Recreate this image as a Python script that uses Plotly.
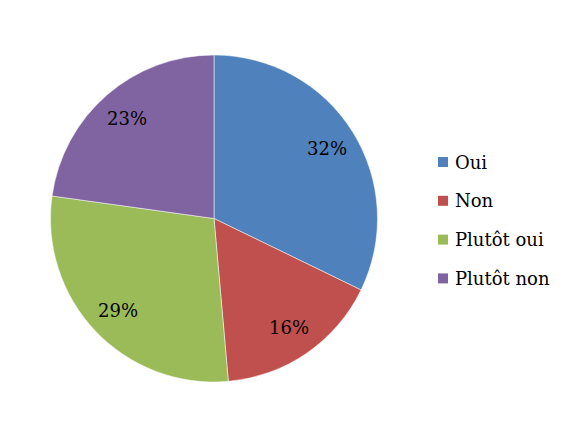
import math
import plotly.graph_objects as go

labels = ["Oui", "Non", "Plutôt oui", "Plutôt non"]
values = [32.2, 16.4, 28.6, 22.8]
colors = ["#4F81BD", "#C0504D", "#9BBB59", "#8064A2"]

FONT = "DejaVu Serif"
W, H = 565, 429   # page body adds an 8px margin

fig = go.Figure()
fig.add_trace(go.Pie(
    labels=labels, values=values, sort=False, direction="clockwise",
    rotation=0, marker=dict(colors=colors, line=dict(color="white", width=0.5)),
    textinfo="none", hoverinfo="label+percent", showlegend=False,
    domain=dict(x=[42 / W, 370 / W], y=[1 - 374 / H, 1 - 47 / H]),
))

# percentage labels at ~0.8 radius on each slice's mid-angle
cx, cy = 206 / W, 1 - 210.5 / H
r = 164 * 0.81
total = sum(values)
cum = 0
for v in values:
    mid = (cum + v / 2) / total * 2 * math.pi
    cum += v
    fig.add_annotation(
        x=cx + r * math.sin(mid) / W, y=cy + r * math.cos(mid) / H,
        xref="paper", yref="paper", xanchor="center", yanchor="middle",
        showarrow=False,
        text=f"{v / total * 100:.0f}%", font=dict(family=FONT, size=18, color="black"),
    )

# legend: squares + labels
for i, (lab, col) in enumerate(zip(labels, colors)):
    yc = 154 + i * 38.8
    fig.add_shape(type="rect", xref="paper", yref="paper",
                  x0=430 / W, x1=440 / W, y0=1 - (yc - 5) / H, y1=1 - (yc + 5) / H,
                  fillcolor=col, line=dict(width=0))
    fig.add_annotation(x=445 / W, y=1 - yc / H, xref="paper", yref="paper",
                       xanchor="left", yanchor="middle", showarrow=False,
                       text=lab, font=dict(family=FONT, size=18, color="black"))

fig.update_layout(
    width=W, height=H, margin=dict(l=0, r=0, t=0, b=0),
    paper_bgcolor="white", font=dict(family=FONT),
)
fig.write_html("out.html")
